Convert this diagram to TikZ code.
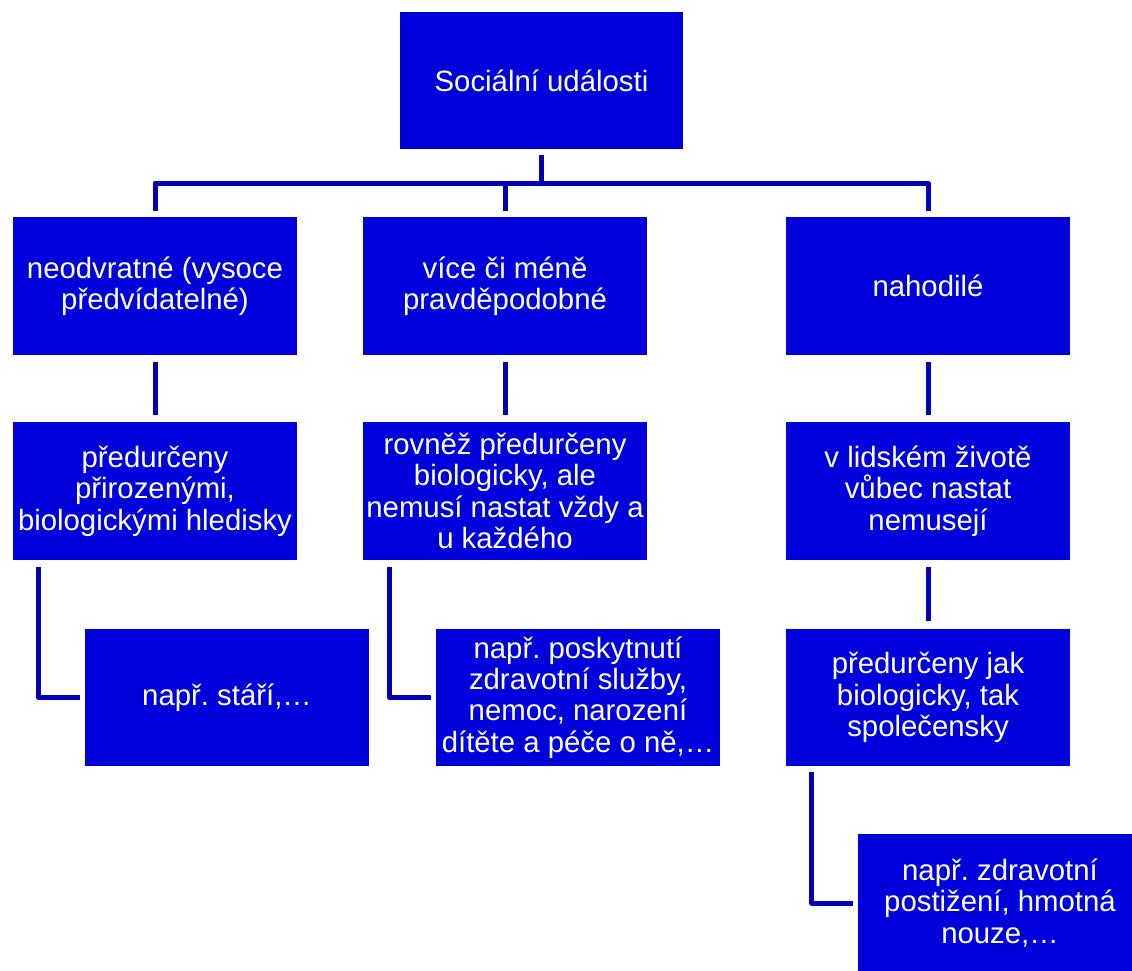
\documentclass[tikz,border=0pt]{standalone}
\usepackage{fontspec}
\setmainfont{Liberation Sans}
\frenchspacing
\definecolor{boxblue}{RGB}{0,0,220}
\definecolor{lineblue}{RGB}{0,0,180}
\tikzset{
  box/.style={rectangle, fill=boxblue, text=white, inner sep=0pt,
    minimum width=5.68cm, minimum height=2.76cm,
    align=center, font=\fontsize{16.7}{17.9}\selectfont},
  conn/.style={draw=lineblue, line width=0.1cm, line join=round}
}
\begin{document}
\begin{tikzpicture}[x=0.02cm, y=-0.02cm]
  \clip (0,0) rectangle (1132,970);
  \node[box] (top) at (541.5,80.5) {Sociální události};
  \node[box] (n1) at (155,286) {neodvratné (vysoce\\předvídatelné)};
  \node[box] (n2) at (505,286) {více či méně\\pravděpodobné};
  \node[box] (n3) at (928,286) {nahodilé};
  \node[box] (b1) at (155,491) {předurčeny\\přirozenými,\\biologickými hledisky};
  \node[box] (b2) at (505,491) {rovněž předurčeny\\biologicky, ale\\nemusí nastat vždy a\\u každého};
  \node[box] (b3) at (928,491) {v lidském životě\\vůbec nastat\\nemusejí};
  \node[box] (c1) at (227,697.5) {např. stáří,…};
  \node[box] (c2) at (578,697.5) {např. poskytnutí\\zdravotní služby,\\nemoc, narození\\dítěte a péče o ně,…};
  \node[box] (c3) at (928,697.5) {předurčeny jak\\biologicky, tak\\společensky};
  \node[box] (d3) at (1000,903) {např. zdravotní\\postižení, hmotná\\nouze,…};
  \coordinate (bus) at (541.5,183);
  \begin{scope}[conn]
    \draw ([yshift=-0.1cm]top.south) -- (top.south |- bus);
    \draw ([yshift=0.12cm]n1.north) |- (bus) -| ([yshift=0.12cm]n3.north);
    \draw (n2.north |- bus) -- ([yshift=0.12cm]n2.north);
    \draw ([yshift=-0.14cm]n1.south) -- ([yshift=0.14cm]b1.north);
    \draw ([yshift=-0.14cm]n2.south) -- ([yshift=0.14cm]b2.north);
    \draw ([yshift=-0.14cm]n3.south) -- ([yshift=0.14cm]b3.north);
    \draw ([yshift=-0.14cm]b3.south) -- ([yshift=0.14cm]c3.north);
    \draw ([shift={(0.52cm,-0.14cm)}]b1.south west) |- ([xshift=-0.1cm]c1.west);
    \draw ([shift={(0.54cm,-0.14cm)}]b2.south west) |- ([xshift=-0.1cm]c2.west);
    \draw ([shift={(0.52cm,-0.1cm)}]c3.south west) |- ([xshift=-0.1cm]d3.west);
  \end{scope}
\end{tikzpicture}
\end{document}
